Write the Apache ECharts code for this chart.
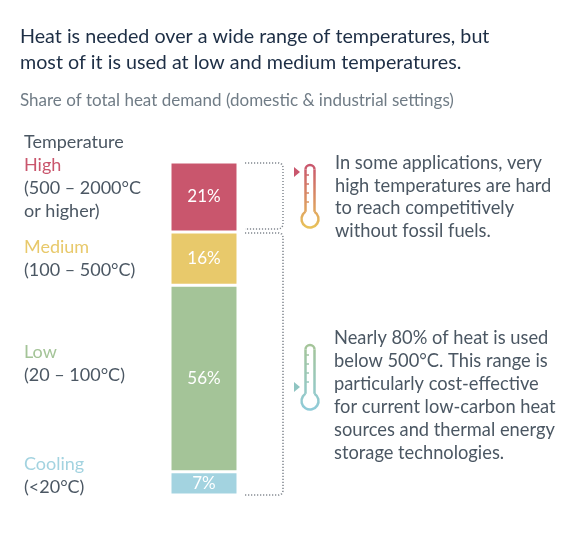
<!DOCTYPE html>
<html lang="en">
<head>
    <meta charset="UTF-8"/>
    <title>Heat demand by temperature</title>
    <script src="https://cdn.jsdelivr.net/npm/echarts@6/dist/echarts.min.js"></script>
    <style>
        html, body {margin: 0; padding: 0; background: #fff;}
        #chart {width: 576px; height: 534px;}
    </style>
</head>
<body>
<div id="chart"></div>
<script type="text/javascript">
    // stacked bottom -> top
    var bands = ["Cooling", "Low", "Medium", "High"];
    var shares = [7, 56, 16, 21];
    var bandColors = ["#a3d3e0", "#a4c498", "#e8c96b", "#c9566d"];

    var FONT = "Lato";
    var grey = "#4b5763";

    var chart = echarts.init(document.getElementById("chart"));

    var series = [];
    for (var i = 0; i < bands.length; i++) {
        series.push({
            name: bands[i],
            type: "bar",
            stack: "total",
            barWidth: "100%",
            data: [shares[i]],
            itemStyle: {color: bandColors[i], borderColor: "#fff", borderWidth: 1.5},
            label: {
                show: true,
                position: "inside",
                formatter: "{c}%",
                color: "#fff",
                fontFamily: FONT,
                fontSize: 17
            }
        });
    }

    chart.setOption({
        backgroundColor: "#fff",
        animation: false,
        title: {
            text: "Heat is needed over a wide range of temperatures, but\nmost of it is used at low and medium temperatures.",
            subtext: "Share of total heat demand (domestic & industrial settings)",
            left: 20,
            top: 23,
            padding: 0,
            itemGap: 15,
            textStyle: {fontFamily: FONT, fontSize: 19.7, lineHeight: 26.5, fontWeight: "normal", color: "#1d2e45"},
            subtextStyle: {fontFamily: FONT, fontSize: 17, lineHeight: 20, color: "#707c86"}
        },
        grid: {left: 170, top: 162, width: 68, bottom: 39},
        xAxis: {type: "category", data: ["share"], show: false},
        yAxis: {type: "value", min: 0, max: 100, show: false},
        series: series
    });

    function y(v) {
        return chart.convertToPixel({yAxisIndex: 0}, v);
    }

    var yTop = y(100), yMid = y(100 - shares[3]), yBot = y(0);
    var bx = 245, rx = 283;

    var dotted = {fill: null, stroke: "#80878e", lineWidth: 1.5, lineDash: [1.2, 1.8]};

    function bracket(y1, y2) {
        return {
            type: "polyline",
            shape: {
                points: [[bx, y1], [rx - 4, y1], [rx - 1.2, y1 + 1.2], [rx, y1 + 4],
                    [rx, y2 - 4], [rx - 1.2, y2 - 1.2], [rx - 4, y2], [bx, y2]]
            },
            style: dotted
        };
    }

    function thermometer(cx, ty, by, cTop, cBot) {
        var grad = {
            type: "linear", global: true, x: 0, y: ty, x2: 0, y2: by + 8,
            colorStops: [{offset: 0, color: cTop}, {offset: 1, color: cBot}]
        };
        var st = {fill: null, stroke: grad, lineWidth: 2.5};
        var hw = 4.5, r = 8.5;
        var d = Math.sqrt(r * r - hw * hw);
        var gap = Math.asin(hw / r);
        var els = [
            {type: "arc", shape: {cx: cx, cy: ty + hw, r: hw, startAngle: Math.PI, endAngle: 2 * Math.PI, clockwise: true}, style: st},
            {type: "line", shape: {x1: cx - hw, y1: ty + hw, x2: cx - hw, y2: by - d}, style: st},
            {type: "line", shape: {x1: cx + hw, y1: ty + hw, x2: cx + hw, y2: by - d}, style: st},
            {type: "arc", shape: {cx: cx, cy: by, r: r, startAngle: -Math.PI / 2 + gap, endAngle: 3 * Math.PI / 2 - gap, clockwise: true}, style: st}
        ];
        for (var k = 0; k < 4; k++) {
            var ty2 = ty + 10 + k * 9;
            els.push({
                type: "line",
                shape: {x1: cx - hw, y1: ty2, x2: cx - 1, y2: ty2},
                style: {stroke: grad, lineWidth: 1.5}
            });
        }
        return {type: "group", children: els};
    }

    function label(top, name, color, rest) {
        return {
            type: "text", left: 24, top: top,
            style: {
                text: "{a|" + name + "}\n" + rest.map(function (r) { return "{b|" + r + "}"; }).join("\n"),
                fontFamily: FONT, fontSize: 18, lineHeight: 23,
                rich: {
                    a: {fontFamily: FONT, fontSize: 18, lineHeight: 23, fill: color, color: color},
                    b: {fontFamily: FONT, fontSize: 18, lineHeight: 23, fill: grey, color: grey}
                }
            }
        };
    }

    chart.setOption({
        graphic: [
            {type: "text", left: 24, top: 133, style: {text: "Temperature", fontFamily: FONT, fontSize: 18, fill: grey}},
            label(153.5, "High", bandColors[3], ["(500 – 2000°C", "or higher)"]),
            label(235.5, "Medium", bandColors[2], ["(100 – 500°C)"]),
            label(340.5, "Low", bandColors[1], ["(20 – 100°C)"]),
            label(452.5, "Cooling", bandColors[0], ["(<20°C)"]),
            bracket(yTop + 1, yMid - 3),
            bracket(yMid + 1, yBot),
            thermometer(310, 165, 219, "#c9566d", "#e8c15a"),
            {type: "polygon", shape: {points: [[294, 167], [300, 172], [294, 177]]}, style: {fill: "#c9566d"}},
            thermometer(310, 345, 401, "#a4c498", "#8fcbd8"),
            {type: "polygon", shape: {points: [[294, 382], [300, 387], [294, 392]]}, style: {fill: "#8fc5c2"}},
            {
                type: "text", left: 335, top: 152,
                style: {
                    text: "In some applications, very\nhigh temperatures are hard\nto reach competitively\nwithout fossil fuels.",
                    fontFamily: FONT, fontSize: 18.3, lineHeight: 22.5, fill: grey
                }
            },
            {
                type: "text", left: 334, top: 327,
                style: {
                    text: "Nearly 80% of heat is used\nbelow 500°C. This range is\nparticularly cost-effective\nfor current low-carbon heat\nsources and thermal energy\nstorage technologies.",
                    fontFamily: FONT, fontSize: 18.3, lineHeight: 23, fill: grey
                }
            }
        ]
    });
</script>
</body>
</html>
